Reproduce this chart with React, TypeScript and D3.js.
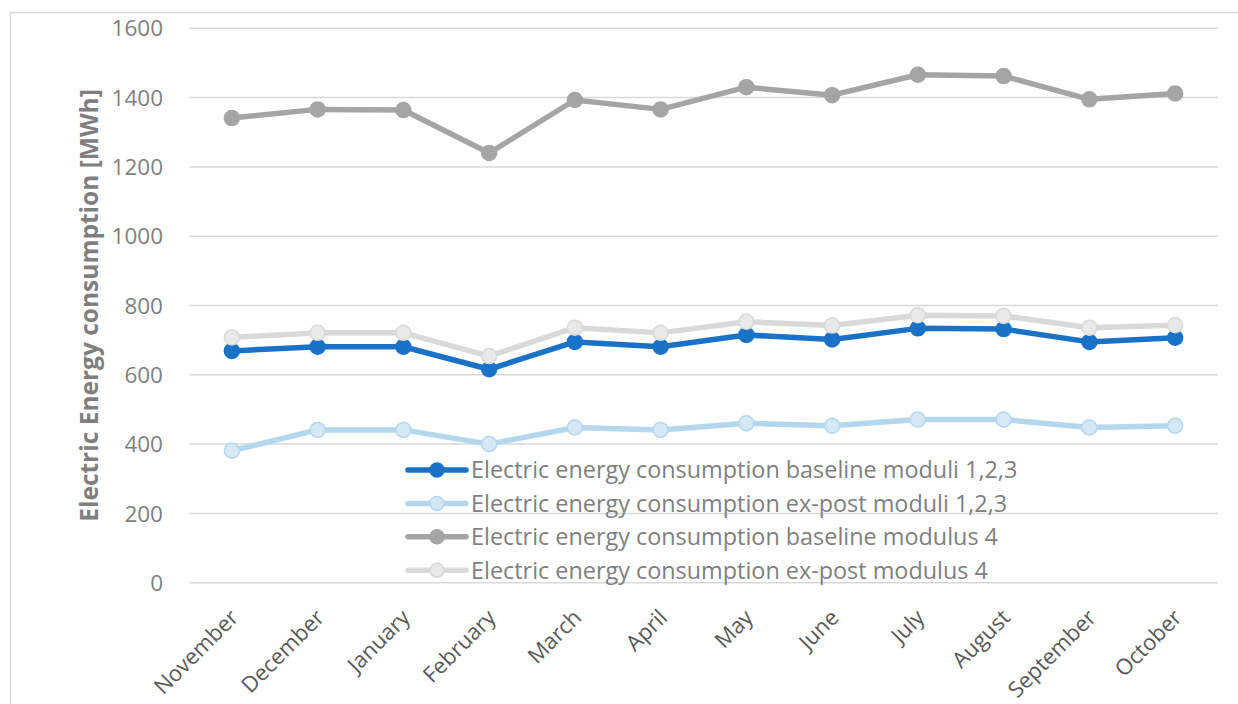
import React, { useEffect, useRef } from "react";
import * as d3 from "d3";

const months = [
  "November", "December", "January", "February", "March", "April",
  "May", "June", "July", "August", "September", "October",
];

const baseline123 = [669, 681, 681, 616, 695, 681, 715, 702, 734, 732, 695, 707];
const expost123 = [381, 441, 441, 400, 448, 441, 460, 453, 471, 471, 448, 453];
const baseline4 = [1341, 1366, 1364, 1240, 1393, 1366, 1430, 1407, 1466, 1462, 1395, 1412];
const expost4 = [708, 721, 721, 654, 736, 721, 753, 742, 772, 770, 736, 743];

const seriesNames = [
  "Electric energy consumption baseline moduli 1,2,3",
  "Electric energy consumption ex-post moduli 1,2,3",
  "Electric energy consumption baseline modulus 4",
  "Electric energy consumption ex-post modulus 4",
];

const yTicks = [0, 200, 400, 600, 800, 1000, 1200, 1400, 1600];

const styles = [
  { line: "#1a72c7", fill: "#1a72c7", stroke: "#1a72c7" },
  { line: "#b4d7ee", fill: "#d6e8f6", stroke: "#b4d7ee" },
  { line: "#a5a5a5", fill: "#a5a5a5", stroke: "#a5a5a5" },
  { line: "#d9d9d9", fill: "#e9e9e9", stroke: "#d9d9d9" },
];

const FONT = "'Open Sans', sans-serif";

function App() {
  const svgRef = useRef<SVGSVGElement | null>(null);

  useEffect(() => {
    const svg = d3.select(svgRef.current);
    svg.selectAll("*").remove();

    const width = 1238;
    const height = 704;
    const left = 189;
    const right = 1218;
    const top = 28.3;
    const bottom = 582.7;

    const allSeries = [baseline123, expost123, baseline4, expost4];

    const x = d3.scaleBand<string>().domain(months).range([left, right]).padding(0);
    const cx = (m: string) => (x(m) as number) + x.bandwidth() / 2;
    const y = d3.scaleLinear().domain([0, 1600]).range([bottom, top]);

    svg.attr("width", width).attr("height", height);

    // outer chart border
    svg
      .append("rect")
      .attr("x", 10.5)
      .attr("y", 12.5)
      .attr("width", 1240)
      .attr("height", 700)
      .attr("fill", "#fff")
      .attr("stroke", "#d9d9d9")
      .attr("stroke-width", 1.5);

    // gridlines
    svg
      .append("g")
      .selectAll("line")
      .data(yTicks)
      .enter()
      .append("line")
      .attr("x1", left)
      .attr("x2", right)
      .attr("y1", (d) => y(d))
      .attr("y2", (d) => y(d))
      .attr("stroke", "#d9d9d9")
      .attr("stroke-width", 1.5);

    // y tick labels
    svg
      .append("g")
      .selectAll("text")
      .data(yTicks)
      .enter()
      .append("text")
      .attr("x", 163)
      .attr("y", (d) => y(d))
      .attr("dy", "0.36em")
      .attr("text-anchor", "end")
      .style("font-family", FONT)
      .style("font-size", "22.5px")
      .attr("fill", "#7f7f7f")
      .text((d) => d);

    // y axis title
    svg
      .append("text")
      .attr("transform", `translate(98,305.5) rotate(-90)`)
      .attr("text-anchor", "middle")
      .style("font-family", FONT)
      .style("font-size", "24.5px")
      .style("font-weight", "bold")
      .attr("fill", "#7f7f7f")
      .text("Electric Energy consumption [MWh]");

    // x labels
    svg
      .append("g")
      .selectAll("text")
      .data(months)
      .enter()
      .append("text")
      .attr("transform", (d) => `translate(${cx(d) + 8},619) rotate(-45)`)
      .attr("text-anchor", "end")
      .style("font-family", FONT)
      .style("font-size", "22px")
      .attr("fill", "#595959")
      .text((d) => d);

    // series
    const line = d3
      .line<number>()
      .x((_, i) => cx(months[i]))
      .y((d) => y(d));

    allSeries.forEach((values, si) => {
      const st = styles[si];
      const g = svg.append("g");
      g.append("path")
        .attr("d", line(values))
        .attr("fill", "none")
        .attr("stroke", st.line)
        .attr("stroke-width", 5.5)
        .attr("stroke-linejoin", "round");
      g.selectAll("circle")
        .data(values)
        .enter()
        .append("circle")
        .attr("cx", (_, i) => cx(months[i]))
        .attr("cy", (d) => y(d))
        .attr("r", 7.5)
        .attr("fill", st.fill)
        .attr("stroke", st.stroke)
        .attr("stroke-width", 1.5);
    });

    // legend
    const legend = svg.append("g");
    const rows = legend
      .selectAll("g")
      .data(seriesNames)
      .enter()
      .append("g")
      .attr("transform", (_, i) => `translate(0,${470 + i * 33.4})`);

    rows
      .append("line")
      .attr("x1", 408)
      .attr("x2", 466)
      .attr("stroke", (_, i) => styles[i].line)
      .attr("stroke-width", 5.5)
      .attr("stroke-linecap", "round");
    rows
      .append("circle")
      .attr("cx", 437)
      .attr("r", 7)
      .attr("fill", (_, i) => styles[i].fill)
      .attr("stroke", (_, i) => styles[i].stroke)
      .attr("stroke-width", 1.5);
    rows
      .append("text")
      .attr("x", 471)
      .attr("dy", "0.36em")
      .style("font-family", FONT)
      .style("font-size", "23.4px")
      .attr("fill", "#7f7f7f")
      .text((d) => d);
  }, []);

  return (
    <div style={{ position: "absolute", left: 0, top: 0 }}>
      <svg ref={svgRef} style={{ display: "block" }}></svg>
    </div>
  );
}

export default App;
